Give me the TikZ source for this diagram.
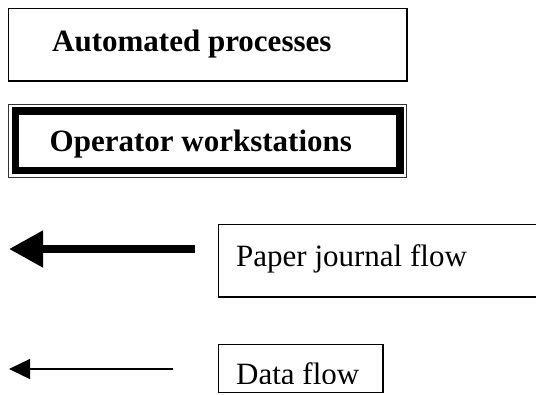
\documentclass[tikz,border=0pt]{standalone}
\usepackage{fontspec}
\setmainfont{Liberation Serif}
\usetikzlibrary{arrows.meta}
\tikzset{
  boxline/.style={line width=1.3pt},
  lbl/.style={inner sep=0pt, anchor=base west, font=\fontsize{31}{37}\selectfont},
  blbl/.style={lbl, font=\fontsize{31}{37}\selectfont\bfseries},
  bigarrow/.style={line width=7.7pt, -{Triangle[length=34pt,width=35pt]}},
  smallarrow/.style={line width=1.3pt, -{Triangle[length=21pt,width=20pt]}}
}
\begin{document}
\begin{tikzpicture}[x=1pt,y=-1pt]
\useasboundingbox (0,0) rectangle (536,394);
\clip (0,0) rectangle (536,394);
% Automated processes
\draw[boxline] (8.5,8.5) rectangle (407,81);
\node[blbl] (auto) at (52,51) {Automated processes};
% Operator workstations
\draw[line width=1pt, black!80] (8.5,104.5) rectangle (406.5,177);
\draw[line width=7.5pt] (15.5,111) rectangle (400,170.5);
\node[blbl] (oper) at (49.5,151) {Operator workstations};
% Paper journal flow
\draw[boxline] (218.5,224.5) rectangle (545,297);
\node[lbl] (paper) at (236,266) {Paper journal flow};
\coordinate (p1) at (195,249);
\coordinate (p0) at (9,249);
\draw[bigarrow] (p1) -- (p0);
% Data flow
\draw[boxline] (218.5,344.5) rectangle (383,392.5);
\begin{scope}
\clip (219,345) rectangle (382,383);
\node[lbl] (data) at (236,384) {Data flow};
\end{scope}
\coordinate (d1) at (173,369);
\coordinate (d0) at (9,369);
\draw[smallarrow] (d1) -- (d0);
\end{tikzpicture}
\end{document}
